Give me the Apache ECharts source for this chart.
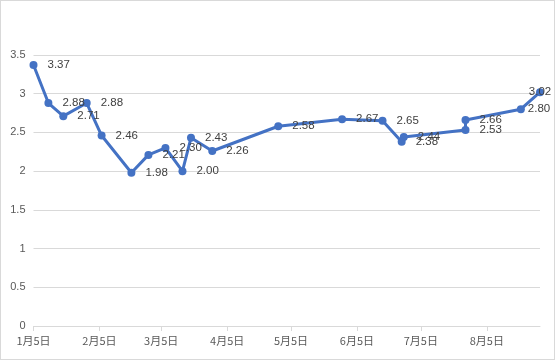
<!DOCTYPE html>
<html>
<head>
<meta charset="utf-8">
<script src="https://cdn.jsdelivr.net/npm/echarts@6/dist/echarts.min.js"></script>
<style>
html,body{margin:0;padding:0;background:#fff;}
#chart{width:555px;height:360px;box-sizing:border-box;border:1px solid #d9d9d9;}
</style>
</head>
<body>
<div id="chart"></div>
<script>
// Data (year 2020)
var dates = ['2020-01-05','2020-01-12','2020-01-19','2020-01-30','2020-02-06','2020-02-20','2020-02-28',
  '2020-03-07','2020-03-15','2020-03-19','2020-03-29','2020-04-29','2020-05-29','2020-06-17',
  '2020-06-26','2020-06-27','2020-07-26','2020-07-26','2020-08-21','2020-08-30'];
var values = [3.37,2.88,2.71,2.88,2.46,1.98,2.21,2.30,2.00,2.43,2.26,2.58,2.67,2.65,2.38,2.44,2.53,2.66,2.80,3.02];
var tickDates = ['2020-01-05','2020-02-05','2020-03-05','2020-04-05','2020-05-05','2020-06-05','2020-07-05','2020-08-05'];
var tickLabels = ['1月5日','2月5日','3月5日','4月5日','5月5日','6月5日','7月5日','8月5日'];
var yTicks = [0,0.5,1,1.5,2,2.5,3,3.5];
var axisMinDate = '2020-01-05';
var axisMaxDate = '2020-08-30';

var DAY = 86400000;
function dayNum(s){ var p = s.split('-'); return Date.UTC(+p[0], +p[1]-1, +p[2]) / DAY; }
var tickDays = tickDates.map(dayNum);

var seriesData = dates.map(function(d, i){
  var item = { value: [dayNum(d), values[i]] };
  if (i === values.length - 1) item.label = { position: 'inside' };
  if (i === values.length - 2) item.label = { distance: 3 };
  return item;
});

var chart = echarts.init(document.getElementById('chart'), null, {renderer:'canvas'});
chart.setOption({
  animation: false,
  grid: { left: 32.5, right: 14, top: 54, bottom: 33, containLabel: false },
  xAxis: {
    type: 'value',
    min: dayNum(axisMinDate),
    max: dayNum(axisMaxDate),
    splitLine: { show: false },
    axisLine: { show: true, lineStyle: { color: '#d9d9d9', width: 1 } },
    axisTick: { show: true, customValues: tickDays, length: 5, lineStyle: { color: '#d9d9d9' } },
    axisLabel: {
      customValues: tickDays,
      margin: 9,
      color: '#595959',
      fontSize: 11,
      fontFamily: '"Noto Sans CJK SC", sans-serif',
      hideOverlap: false,
      formatter: function(v){
        var idx = tickDays.indexOf(v);
        return idx >= 0 ? tickLabels[idx] : '';
      }
    }
  },
  yAxis: {
    type: 'value',
    min: yTicks[0],
    max: yTicks[yTicks.length-1],
    interval: 0.5,
    axisLine: { show: false },
    axisTick: { show: false },
    splitLine: { show: true, lineStyle: { color: '#d9d9d9', width: 1 } },
    axisLabel: { color: '#595959', fontSize: 11, margin: 8, fontFamily: '"Liberation Sans", sans-serif' }
  },
  series: [{
    type: 'line',
    data: seriesData,
    symbol: 'circle',
    symbolSize: 8,
    showAllSymbol: true,
    lineStyle: { color: '#4472C4', width: 3 },
    itemStyle: { color: '#4472C4' },
    label: {
      show: true,
      position: 'right',
      distance: 10,
      color: '#404040',
      fontSize: 11.5,
      fontFamily: '"Liberation Sans", sans-serif',
      formatter: function(p){ return p.value[1].toFixed(2); }
    },
    labelLayout: { hideOverlap: false }
  }]
});
</script>
</body>
</html>
